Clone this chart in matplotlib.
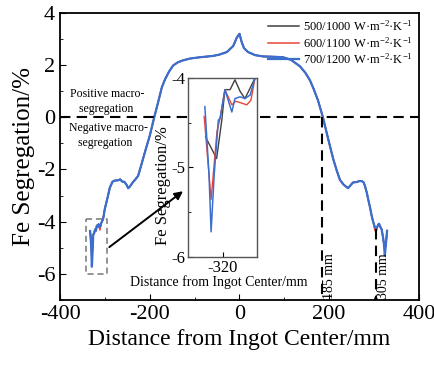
import matplotlib
matplotlib.use("Agg")
import matplotlib.pyplot as plt
from matplotlib.ticker import MultipleLocator

plt.rcParams['font.family'] = ['Liberation Serif', 'DejaVu Serif']
plt.rcParams['mathtext.fontset'] = 'custom'
plt.rcParams['mathtext.rm'] = 'Liberation Serif'
plt.rcParams['mathtext.it'] = 'Liberation Serif:italic'
plt.rcParams['axes.unicode_minus'] = False

# main curve (700/1200, the others only differ near the ingot edges)
x_main = [-333, -331, -329, -327, -326, -324, -322, -320, -318, -316, -314, -311,
          -308, -304, -300, -295, -289, -283, -277, -271, -266, -261, -257, -252,
          -248, -244, -238, -232, -226, -220, -211, -200, -190, -181, -173, -166,
          -157, -148, -138, -126, -110, -88, -59, -45, -28, -14, -6, 0,
          5, 10, 19, 35, 53, 75, 97, 115, 127, 135, 147, 157, 165, 175, 186,
          198, 209, 217, 224, 232, 242, 248, 253, 262, 268, 273, 277, 280, 284,
          287, 291, 295, 298, 302, 306, 309, 311, 314, 317, 320, 322, 324, 326, 329]
fe_700 = [-4.36, -4.8, -5.73, -5.0, -4.5, -4.45, -4.3, -4.35, -4.15, -4.2, -4.1, -4.2,
          -4.05, -3.9, -3.5, -3.15, -2.7, -2.47, -2.42, -2.42, -2.38, -2.47, -2.47, -2.58,
          -2.72, -2.65, -2.5, -2.38, -2.25, -1.9, -1.35, -0.71, 0.0, 0.6, 1.15, 1.45,
          1.75, 1.98, 2.1, 2.18, 2.25, 2.3, 2.35, 2.4, 2.5, 2.73, 3.05, 3.2,
          2.88, 2.65, 2.5, 2.38, 2.33, 2.32, 2.3, 2.2, 2.05, 1.95, 1.7, 1.42, 1.1, 0.65, 0.0,
          -0.85, -1.6, -2.05, -2.4, -2.58, -2.72, -2.6, -2.5, -2.48, -2.44, -2.45, -2.5, -2.65, -2.9,
          -3.15, -3.45, -3.8, -4.0, -4.22, -4.25, -4.12, -4.08, -4.2, -4.3, -4.6, -4.85, -5.3, -4.95, -4.35]
# points where the other two cases depart from 700/1200
diff_600 = {-329: -5.4, -327: -4.9, -311: -4.32, 302: -4.35, 306: -4.32, 324: -5.1}
diff_500 = {-331: -4.6, -329: -4.9, -327: -4.8, -311: -4.25, 324: -4.9}
fe_600 = [diff_600.get(x, y) for x, y in zip(x_main, fe_700)]
fe_500 = [diff_500.get(x, y) for x, y in zip(x_main, fe_700)]

# inset (zoom near -320 mm)
ins_x_700 = [-325.1, -323.9, -323.3, -322.4, -321.2, -320.7, -319.3, -317.3, -316.4, -314.9, -313.5, -312.0, -310.6]
ins_y_700 = [-4.32, -5.08, -5.72, -5.08, -4.47, -4.45, -4.13, -4.38, -4.23, -4.21, -4.23, -4.19, -4.0]
ins_x_600 = [-325.3, -323.3, -321.6, -320.7, -319.3, -317.3, -316.2, -314.5, -313.0, -311.8, -310.6]
ins_y_600 = [-4.43, -5.36, -4.6, -4.45, -4.13, -4.3, -4.26, -4.28, -4.3, -4.25, -4.0]
ins_x_500 = [-324.9, -321.7, -320.2, -319.3, -317.8, -316.4, -314.9, -313.5, -310.6]
ins_y_500 = [-4.66, -4.9, -4.47, -4.13, -4.13, -4.02, -4.15, -4.23, -4.0]

labels = ['500/1000 W·m$^{-2}$·K$^{-1}$', '600/1100 W·m$^{-2}$·K$^{-1}$', '700/1200 W·m$^{-2}$·K$^{-1}$']
colors = ['#404040', '#e8453c', '#3b6fcf']

fig = plt.figure(figsize=(4.35, 3.68), dpi=100)
ax = fig.add_axes([0.138, 0.185, 0.825, 0.78])

ax.plot(x_main, fe_500, color=colors[0], lw=1.1, label=labels[0])
ax.plot(x_main, fe_600, color=colors[1], lw=1.1, label=labels[1])
ax.plot(x_main, fe_700, color=colors[2], lw=1.6, label=labels[2])

ax.plot([-400, 400], [0, 0], 'k--', lw=1.5, dashes=(5, 3))
ax.plot([185, 185], [0, -7], 'k--', lw=1.5, dashes=(5, 3))
ax.plot([305, 305], [-4.3, -7], 'k--', lw=1.5, dashes=(5, 3))
ax.text(187, -6.95, '185 mm', rotation=90, fontsize=10, ha='left', va='bottom')
ax.text(307, -6.95, '305 mm', rotation=90, fontsize=10, ha='left', va='bottom')

ax.text(-378, 0.6, 'Positive macro-\n   segregation', fontsize=8.5, va='center', linespacing=1.3)
ax.text(-381, -0.7, 'Negative macro-\n   segregation', fontsize=8.5, va='center', linespacing=1.3)

ax.plot([-342, -295, -295, -342, -342], [-3.9, -3.9, -6.0, -6.0, -3.9], '--', color='#777777', lw=1.1, dashes=(4, 2.5))
ax.annotate('', xy=(-121, -2.77), xytext=(-295, -5.04),
            arrowprops=dict(arrowstyle='-|>', color='k', lw=1.4, mutation_scale=12))

ax.set_xlim(-400, 400)
ax.set_ylim(-7, 4)
ax.xaxis.set_major_locator(MultipleLocator(200))
ax.xaxis.set_minor_locator(MultipleLocator(100))
ax.yaxis.set_major_locator(MultipleLocator(2))
ax.yaxis.set_minor_locator(MultipleLocator(1))
ax.tick_params(which='both', direction='in', labelsize=16)
ax.tick_params(which='major', length=4)
ax.tick_params(which='minor', length=2.5)
for s in ax.spines.values():
    s.set_linewidth(1.3)
ax.set_xlabel('Distance from Ingot Center/mm', fontsize=17)
ax.set_ylabel('Fe Segregation/%', fontsize=18, labelpad=1)
ax.legend(loc='upper right', frameon=False, fontsize=9, handlelength=2.5,
          labelspacing=0.15, borderaxespad=0.1, handletextpad=0.3)

# inset
ax_in = fig.add_axes([0.432, 0.302, 0.159, 0.486])
ax_in.plot(ins_x_500, ins_y_500, color=colors[0], lw=1.0)
ax_in.plot(ins_x_600, ins_y_600, color=colors[1], lw=1.0)
ax_in.plot(ins_x_700, ins_y_700, color=colors[2], lw=1.1)
ax_in.set_xlim(-330, -310)
ax_in.set_ylim(-6, -4)
ax_in.set_xticks([-320])
ax_in.set_yticks([-6, -5, -4])
ax_in.yaxis.set_minor_locator(MultipleLocator(0.5))
ax_in.tick_params(which='both', direction='in', labelsize=12, pad=2)
ax_in.tick_params(which='minor', length=2)
for s in ax_in.spines.values():
    s.set_color('#555555')
    s.set_linewidth(1.0)
ax_in.set_ylabel('Fe Segregation/%', fontsize=12)
ax_in.yaxis.set_label_coords(-0.24, 0.4)
ax_in.text(0.45, -0.14, 'Distance from Ingot Center/mm', transform=ax_in.transAxes,
           fontsize=10, ha='center', va='center')

fig.savefig('out.png', dpi=100)
